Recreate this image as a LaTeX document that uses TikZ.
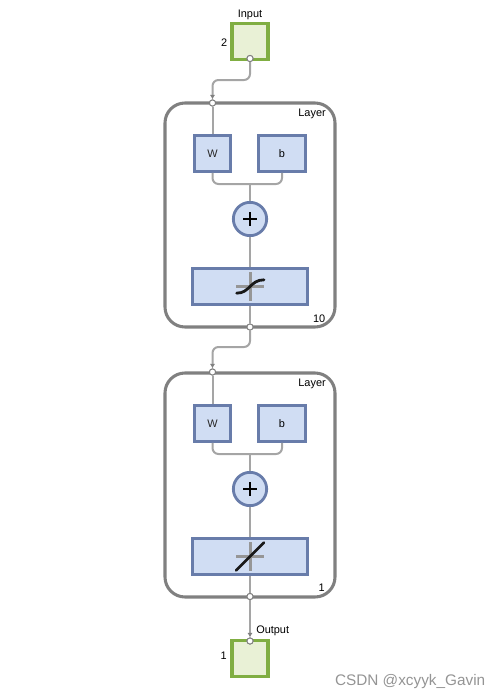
\documentclass[tikz,border=0pt]{standalone}
\usepackage{fontspec}
\setmainfont{Liberation Sans}
\usetikzlibrary{arrows.meta}
\definecolor{wire}{RGB}{165,165,165}
\definecolor{axisgray}{RGB}{150,150,150}
\definecolor{layeredge}{RGB}{128,128,128}
\definecolor{blueedge}{RGB}{104,124,170}
\definecolor{bluefill}{RGB}{208,221,243}
\definecolor{greenedge}{RGB}{128,174,66}
\definecolor{greenfill}{RGB}{233,241,214}
\tikzset{
  x=0.75pt,y=-0.75pt,
  wirestyle/.style={draw=wire,line width=1.5pt,rounded corners=4.5pt},
  arrowwire/.style={wirestyle,-{Latex[length=3.4pt,width=3.8pt,color=layeredge]}},
  layerbox/.style={draw=layeredge,line width=2.3pt,rounded corners=15pt,minimum width=127.5pt,minimum height=168pt,inner sep=0pt},
  iobox/.style={draw=greenedge,fill=greenfill,line width=2.3pt,minimum width=27pt,minimum height=27pt,inner sep=0pt},
  wbox/.style={draw=blueedge,fill=bluefill,line width=2.1pt,minimum height=27pt,inner sep=0pt},
  sumnode/.style={circle,draw=blueedge,fill=bluefill,line width=2.1pt,minimum size=25pt,inner sep=0pt},
  tfbox/.style={draw=blueedge,fill=bluefill,line width=1.9pt,minimum width=86.5pt,minimum height=27pt,inner sep=0pt},
  port/.style={circle,draw=layeredge,fill=white,line width=.7pt,minimum size=4.6pt,inner sep=0pt},
  lbl/.style={font=\fontsize{8.2}{10}\selectfont,inner sep=0pt},
  axisline/.style={draw=axisgray,line width=2.1pt},
  curveline/.style={draw=black!90,line width=2.1pt,line cap=round},
  wm/.style={font=\fontsize{11.5}{13}\selectfont,text=black!42,inner sep=0pt}
}
\newcommand{\layerblock}[2]{%
  \node[layerbox] (L#1) at (250,#2+215) {};
  \node[wbox,minimum width=27pt] (W#1) at (212.5,#2+153.5) {};
  \node[lbl,text=black!85] at (W#1) {W};
  \node[wbox,minimum width=35.5pt] (B#1) at (282,#2+153.5) {};
  \node[lbl] at (B#1) {b};
  \node[sumnode] (S#1) at (250,#2+219) {};
  \node[tfbox] (T#1) at (250,#2+286.5) {};
  \coordinate (J#1) at (250,#2+184);
  \node[lbl,anchor=east] (LL#1) at (326,#2+113.5) {Layer};
  \draw[axisline] (250.3,#2+272) -- (250.3,#2+301);
  \draw[axisline] (236,#2+286.5) -- (264,#2+286.5);
}
\begin{document}
\begin{tikzpicture}
\useasboundingbox (0,0) rectangle (500,700);
\layerblock{1}{0}
\layerblock{2}{270}
\node[iobox] (In) at (250,41.5) {};
\node[iobox] (Out) at (250,658.5) {};
% ports
\node[port] (InP) at (250,58.5) {};
\node[port] (L1in) at (212.5,103) {};
\node[port] (L1out) at (250,327) {};
\node[port] (L2in) at (212.5,372) {};
\node[port] (L2out) at (250,596.5) {};
\node[port] (OutP) at (250,641) {};
% connectors
\coordinate (A1) at (250,80);
\coordinate (A2) at (212.5,80);
\coordinate (A3) at (250,347);
\coordinate (A4) at (212.5,347);
\draw[arrowwire] (InP) -- (A1) -- (A2) -- (L1in);
\draw[arrowwire] (L1out) -- (A3) -- (A4) -- (L2in);
\draw[arrowwire] (L2out) -- (OutP);
\foreach \n in {1,2}{
  \draw[wirestyle] (L\n in) -- (W\n);
  \draw[wirestyle] (W\n.south) |- (J\n);
  \draw[wirestyle] (B\n.south) |- (J\n);
  \draw[wirestyle] (J\n) -- (S\n);
  \draw[wirestyle] (S\n) -- (T\n);
  \draw[wirestyle] (T\n) -- (L\n out);
  \draw[black,line width=1.7pt] ([xshift=-4.9pt]S\n.center) -- ([xshift=4.9pt]S\n.center);
  \draw[black,line width=1.7pt] ([yshift=-4.9pt]S\n.center) -- ([yshift=4.9pt]S\n.center);
}
\draw[curveline] ([xshift=-10pt,yshift=-5pt]T1.center) .. controls ([xshift=0pt,yshift=-5pt]T1.center) and ([xshift=0pt,yshift=5pt]T1.center) .. ([xshift=10.5pt,yshift=5pt]T1.center);
\draw[curveline] ([xshift=-10.5pt,yshift=-10.5pt]T2.center) -- ([xshift=10.5pt,yshift=10.5pt]T2.center);
% ports on top of the wires
\foreach \p in {InP,L1in,L1out,L2in,L2out,OutP}{
  \node[port] at (\p) {};
}
% labels
\node[lbl] (tIn) at (250,14.5) {Input};
\node[lbl,anchor=east] (tTwo) at (227.5,42.5) {2};
\node[lbl,anchor=east] (t10) at (325.5,318.5) {10};
\node[lbl,anchor=east] (t1a) at (325,587.5) {1};
\node[lbl,anchor=west] (tOut) at (256,630.5) {Output};
\node[lbl,anchor=east] (t1b) at (227,655.5) {1};
\node[wm,anchor=east] (wmk) at (485.5,681.5) {CSDN @xcyyk\_Gavin};
\end{tikzpicture}
\end{document}
